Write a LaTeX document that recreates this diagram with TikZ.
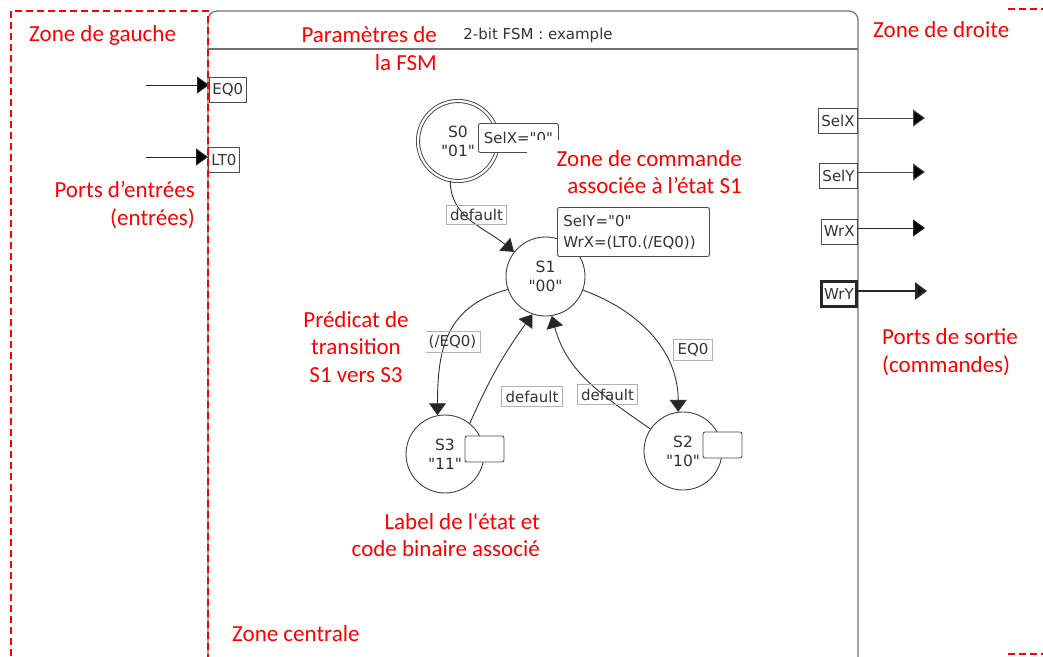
\documentclass[tikz,border=0pt]{standalone}
\usepackage{fontspec}
\setmainfont{Carlito}
\newfontfamily\plainq{Carlito}[Ligatures=TeXOff]
\newfontfamily\ui{DejaVu Sans}
\usetikzlibrary{arrows.meta}
\begin{document}
\begin{tikzpicture}[x=1pt,y=-1pt,
  note/.style={text=red, font=\fontsize{23}{27.5}\selectfont, inner sep=0pt},
  zone/.style={red, line width=2pt, dash pattern=on 7pt off 4pt},
  frame/.style={draw=black!55, line width=1.3pt},
  state/.style={circle, draw=black!75, line width=0.9pt, minimum size=79pt, inner sep=0pt, align=center, font=\ui\fontsize{15.5}{19}\selectfont, text=black!80},
  cmd/.style={draw=black!70, fill=white, rounded corners=2pt, line width=0.9pt, font=\ui\fontsize{15}{21}\selectfont, text=black!80},
  lbl/.style={draw=black!30, line width=0.9pt, inner xsep=4pt, inner ysep=4pt, font=\ui\fontsize{15}{17}\selectfont, text=black!80},
  port/.style={draw=black!70, fill=white, line width=0.9pt, inner xsep=3pt, inner ysep=0pt, minimum height=25pt, font=\ui\fontsize{15}{17}\selectfont, text=black!80},
  tr/.style={draw=black!80, line width=0.9pt, -{Triangle[length=12pt,width=17pt,fill=black!85]}},
  pa/.style={draw=black!70, line width=1pt, -{Triangle[length=12pt,width=17pt,fill=black]}},
]
\useasboundingbox (0,0) rectangle (1043,656);
\clip (0,0) rectangle (1043,656);

% FSM frame
\draw[frame, rounded corners=9pt] (208,700) |- (858,11) -- (858,700);
\draw[frame] (208,49) -- (858,49);
\node[font=\ui\fontsize{15}{18}\selectfont, text=black!80] (title) at (538,35) {2-bit FSM : example};

% states
\node[state, double, double distance=2.2pt, minimum size=80pt] (S0) at (458,141) {S0\\"01"};
\node[state] (S1) at (545.5,276.5) {S1\\"00"};
\node[state, minimum size=78pt] (S3) at (445,454) {S3\\"11"};
\node[state, minimum size=78pt] (S2) at (683,451) {S2\\"10"};

% transitions
\draw[tr] (S0.-101) to[out=-90,in=140] (S1.142);
\draw[tr] (S1.199) to[out=195,in=90,looseness=1.15] (S3.101);
\draw[tr] (S3.51) to[bend left=6] (S1.251);
\draw[tr] (S2.146) to[out=145,in=-75] (S1.279);
\draw[tr] (S1.-20) to[out=-20,in=90] (S2.97);

% transition predicates
\node[lbl] (l01) at (476.5,215) {default};
\node[lbl] (l13) at (452.5,342) {(/EQ0)};
\node[lbl] (l31) at (532,396.5) {default};
\node[lbl] (l21) at (607.5,394.5) {default};
\node[lbl] (l12) at (693,349.5) {EQ0};

% command boxes
\node[cmd, anchor=north west, minimum width=80pt, minimum height=29pt] (c0) at (478,123) {SelX="0"};
\node[cmd, anchor=north west, align=left, text width=140pt, inner xsep=6pt, inner ysep=4pt, minimum height=49pt] (c1) at (557,207) {SelY="0"\\WrX=(LT0.(/EQ0))};
\node[cmd, minimum width=39pt, minimum height=26pt] (c3) at (484.5,449) {};
\node[cmd, minimum width=39pt, minimum height=26pt] (c2) at (722.5,445) {};

% input ports
\node[port, anchor=west] (EQ0) at (209,89.5) {EQ0};
\node[port, anchor=west] (LT0) at (208,160) {LT0};
\coordinate (eqin) at (146,85);
\coordinate (ltin) at (146,157);
\draw[pa, draw=black!85] (eqin) -- (eqin -| EQ0.west);
\draw[pa, draw=black!85] (ltin) -- (ltin -| LT0.west);

% output ports
\node[port, anchor=east] (SelX) at (858,120.5) {SelX};
\node[port, anchor=east] (SelY) at (858,175.5) {SelY};
\node[port, anchor=east] (WrX) at (858,231.5) {WrX};
\node[port, anchor=east, line width=2.6pt, draw=black!85] (WrY) at (858,294) {WrY};
\coordinate (sxo) at (925,118);
\coordinate (syo) at (925,172);
\coordinate (wxo) at (925,228);
\coordinate (wyo) at (927,291);
\draw[pa] (SelX.east |- sxo) -- (sxo);
\draw[pa] (SelY.east |- syo) -- (syo);
\draw[pa, draw=black!85] (WrX.east |- wxo) -- (wxo);
\draw[pa, line width=2.8pt, draw=black!85] (WrY.east |- wyo) -- (wyo);

% annotations
\fill[white] (527,140) rectangle (562,157);
\node[note, align=right, anchor=east] (zcmd) at (742,172) {Zone de commande\\associée à l’état S1};
\node[note, anchor=west] (zg) at (29,35) {Zone de gauche};
\node[note, anchor=west] (zd) at (873,30) {Zone de droite};
\node[note, align=right, anchor=east] (par) at (437,48.5) {Paramètres de\\la FSM};
\node[note, align=right, anchor=east] (pe) at (195,205) {Ports d’entrées\\(entrées)};
\node[note, align=left, anchor=west] (ps) at (882,352) {Ports de sortie\\(commandes)};
\node[note, align=center, fill=white, minimum width=140pt] (pred) at (356,347) {Prédicat de\\transition\\S1 vers S3};
\node[note, align=right, anchor=east] (lab) at (540,535) {Label de l{\plainq'}état et\\code binaire associé};
\node[note, anchor=west] (zcen) at (232,634) {Zone centrale};

% zones
\draw[zone] (11,700) |- (208,11) -- (208,700);
\draw[zone] (1008,9) -- (1060,9);
\draw[zone] (1008,654) -- (1060,654);
\end{tikzpicture}
\end{document}
